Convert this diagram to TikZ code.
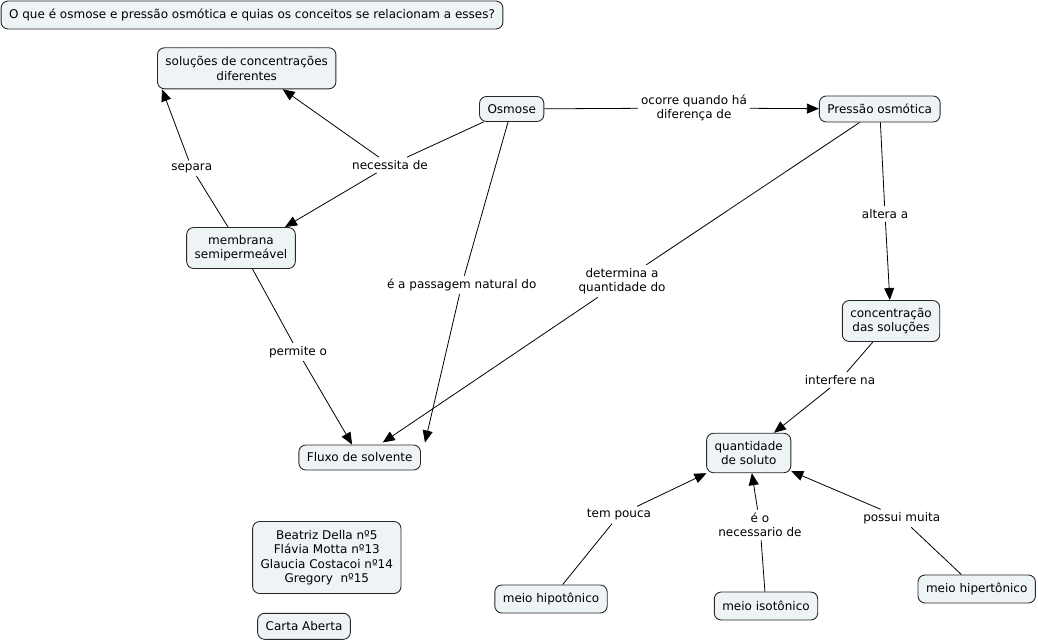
\documentclass[tikz,border=0pt]{standalone}
\usepackage{fontspec}
\setmainfont{DejaVu Sans}
\usetikzlibrary{arrows.meta,calc}
\definecolor{cfill}{RGB}{238,243,246}
\definecolor{cline}{RGB}{40,40,40}
\begin{document}
\begin{tikzpicture}[x=1pt,y=-1pt,
  every node/.style={font=\fontsize{12}{14.5}\selectfont},
  concept/.style={draw=cline, fill=cfill, line width=0.9pt, rounded corners=7pt, align=center, inner xsep=8pt, inner ysep=3pt, minimum height=27pt},
  two/.style={minimum height=41pt},
  lbl/.style={align=center, inner sep=3pt},
  link/.style={draw=black, line width=0.8pt},
  arr/.style={link, -{Triangle[length=12pt,width=10pt]}}]
\fill[white] (0,0) rectangle (1038,642);
\useasboundingbox (0,0) rectangle (1038,642);

% concepts
\node[concept, minimum height=28pt] (title) at (252,15) {O que é osmose e pressão osmótica e quias os conceitos se relacionam a esses?};
\node[concept,two] (sol) at (246.7,68.3) {soluções de concentrações\\diferentes};
\node[concept,minimum height=25pt] (osm) at (511.7,109) {Osmose};
\node[concept,minimum height=26pt] (pres) at (879.7,109) {Pressão osmótica};
\node[concept,two] (memb) at (241,248) {membrana\\semipermeável};
\node[concept,two] (conc) at (891,321) {concentração\\das soluções};
\node[concept,minimum height=39.5pt] (quant) at (748.7,453) {quantidade\\de soluto};
\node[concept,minimum height=25pt] (flux) at (359.7,457.5) {Fluxo de solvente};
\node[concept,minimum height=72pt] (names) at (326.8,557.5) {Beatriz Della nº5\\Flávia Motta nº13\\Glaucia Costacoi nº14\\Gregory\ \ nº15};
\node[concept,minimum height=26pt] (carta) at (304,626.3) {Carta Aberta};
\node[concept,minimum height=28pt] (hiper) at (976.7,589) {meio hipertônico};
\node[concept,minimum height=28pt] (iso) at (766,606) {meio isotônico};
\node[concept,minimum height=28pt] (hipo) at (551,599) {meio hipotônico};

% link labels
\node[lbl] (nec) at (390,165) {necessita de};
\node[lbl] (sep) at (191.7,168.3) {separa};
\node[lbl] (oco) at (694,108) {ocorre quando há\\diferença de};
\node[lbl] (alt) at (885,214) {altera a};
\node[lbl] (det) at (622,281) {determina a\\quantidade do};
\node[lbl] (pas) at (461.7,285) {é a passagem natural do};
\node[lbl] (per) at (298,352) {permite o};
\node[lbl] (int) at (840,380) {interfere na};
\node[lbl] (tem) at (619,515) {tem pouca};
\node[lbl] (eo) at (760,525) {é o\\necessario de};
\node[lbl] (pos) at (901.7,518.3) {possui muita};

% connectors
\draw[link] (osm) -- (nec);
\draw[arr] (nec) -- ($(sol.south)+(36,0)$);
\draw[arr] (nec) -- ($(memb.north)+(44,0)$);
\draw[link] (memb) -- (sep);
\draw[arr] (sep) -- ($(sol.south west)+(5,0)$);
\draw[link] (osm) -- (oco);
\draw[arr] (oco) -- (pres);
\draw[link] (osm) -- (pas);
\draw[arr] (pas) -- ($(flux.north east)+(4,-2)$);
\draw[link] (pres) -- (det);
\draw[arr] (det) -- ($(flux.north)+(23,-2)$);
\draw[link] (pres) -- (alt);
\draw[arr] (alt) -- (conc);
\draw[link] (memb) -- (per);
\draw[arr] (per) -- (flux);
\draw[link] (conc) -- (int);
\draw[arr] (int) -- (quant);
\draw[link] (hipo) -- (tem);
\draw[arr] (tem) -- (quant);
\draw[link] (iso) -- (eo);
\draw[arr] (eo) -- (quant);
\draw[link] (hiper) -- (pos);
\draw[arr] (pos) -- (quant);
\end{tikzpicture}
\end{document}
